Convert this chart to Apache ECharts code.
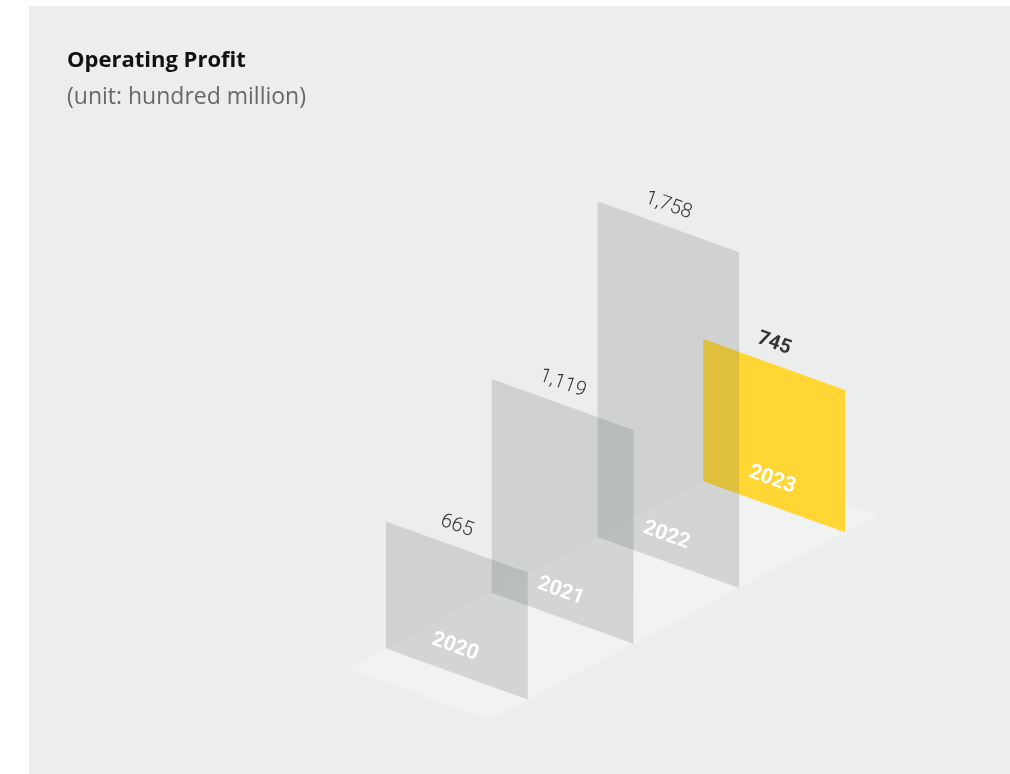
<!DOCTYPE html>
<html>
<head>
<meta charset="utf-8">
<script src="https://cdn.jsdelivr.net/npm/echarts@6/dist/echarts.min.js"></script>
<style>
  html, body { margin: 0; padding: 0; background: #ffffff; }
  #chart { width: 1010px; height: 774px; }
</style>
</head>
<body>
<div id="chart"></div>
<script>
// ---- data ----
var years = ['2020', '2021', '2022', '2023'];
var profits = [665, 1119, 1758, 745];
var highlightYear = '2023';

// ---- style constants ----
var FONT = 'Roboto, "Noto Sans", sans-serif';
var TITLE_FONT = '"Open Sans", Roboto, sans-serif';
var DEPTH_SLOPE = 0.527;   // upward rise of the floor per px of depth
var SKEW = 0.36;           // downward slope of each panel's face
var HALF_W = 0.67;         // half panel width, in category steps

var chart = echarts.init(document.getElementById('chart'), null, { renderer: 'canvas' });

function project(api, d, val, x0) {
  var p = api.coord([d, val]);
  var b = api.coord([d, 0]);
  var shift = (b[0] - x0) * DEPTH_SLOPE;
  return [p[0], p[1] - shift, b[1] - shift];
}

var barData = years.map(function (y, i) { return [i, profits[i], y]; });

var option = {
  animation: false,
  title: {
    text: 'Operating Profit',
    subtext: '(unit: hundred million)',
    left: 62,
    top: 45,
    itemGap: 14,
    textStyle: { fontFamily: TITLE_FONT, fontSize: 22, fontWeight: 'bold', color: '#111111' },
    subtextStyle: { fontFamily: TITLE_FONT, fontSize: 23, fontWeight: 'normal', color: '#686868' }
  },
  graphic: [{
    type: 'rect', left: 29, top: 6, z: -10,
    shape: { width: 981, height: 768 },
    style: { fill: '#eceeed' }
  }],
  grid: { left: 404, top: 292, width: 423, height: 382 },
  xAxis: { type: 'value', min: -0.5, max: 3.5, show: false },
  yAxis: { type: 'value', min: 0, max: 2000, show: false },
  series: [
    {
      type: 'custom',
      z: 1,
      silent: true,
      data: [[0]],
      renderItem: function (params, api) {
        var x0 = api.coord([0, 0])[0];
        var hw = api.size([1, 0])[0] * HALF_W;
        var d0 = -0.36, d1 = years.length - 1 + 0.31;
        var a = project(api, d0, 0, x0);
        var c = project(api, d1, 0, x0);
        return {
          type: 'polygon',
          shape: { points: [
            [a[0] - hw, a[1] - hw * SKEW],
            [a[0] + hw, a[1] + hw * SKEW],
            [c[0] + hw, c[1] + hw * SKEW],
            [c[0] - hw, c[1] - hw * SKEW]
          ] },
          style: { fill: '#f1f2f2' }
        };
      }
    },
    {
      type: 'custom',
      z: 2,
      silent: true,
      data: barData,
      renderItem: function (params, api) {
        var i = api.value(0);
        var v = api.value(1);
        var year = years[i];
        var x0 = api.coord([0, 0])[0];
        var hw = api.size([1, 0])[0] * HALF_W;
        var t = project(api, i, v, x0);
        var cx = t[0], cyTop = t[1], cyBase = t[2];
        var isHi = year === highlightYear;
        var rot = -Math.atan(SKEW);
        return {
          type: 'group',
          children: [
            {
              type: 'polygon',
              z2: isHi ? 0 : 1,
              shape: { points: [
                [cx - hw, cyBase - hw * SKEW],
                [cx + hw, cyBase + hw * SKEW],
                [cx + hw, cyTop + hw * SKEW],
                [cx - hw, cyTop - hw * SKEW]
              ] },
              style: isHi ? { fill: '#ffd633' } : { fill: 'rgba(95,99,99,0.2)' }
            },
            {
              type: 'text',
              z2: 10,
              x: cx - 2, y: cyBase - 27,
              rotation: rot,
              style: {
                text: year, align: 'center', verticalAlign: 'middle',
                fill: '#ffffff', fontFamily: FONT, fontSize: 21, fontWeight: 'bold'
              }
            },
            {
              type: 'text',
              z2: 10,
              x: cx, y: cyTop - 21,
              rotation: rot,
              style: {
                text: v.toLocaleString('en-US'), align: 'center', verticalAlign: 'middle',
                fill: '#333333', fontFamily: FONT, fontSize: 20,
                fontWeight: isHi ? 'bold' : 300
              }
            }
          ]
        };
      }
    }
  ]
};
chart.setOption(option);
</script>
</body>
</html>
